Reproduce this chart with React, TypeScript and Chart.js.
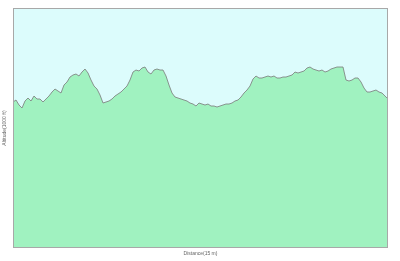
import React, { useEffect, useRef } from "react";
import { Chart, registerables } from "chart.js";

Chart.register(...registerables);

// Altitude profile (1000 ft), one sample per distance step
const altitude: number[] = [
  1.46, 1.48, 1.43, 1.40, 1.47, 1.50, 1.47, 1.52, 1.49, 1.49,
  1.46, 1.49, 1.52, 1.56, 1.59, 1.57, 1.55, 1.63, 1.66, 1.71,
  1.73, 1.74, 1.72, 1.76, 1.79, 1.75, 1.68, 1.62, 1.59, 1.53,
  1.45, 1.46, 1.47, 1.49, 1.52, 1.54, 1.56, 1.59, 1.62, 1.68,
  1.76, 1.78, 1.77, 1.80, 1.81, 1.76, 1.74, 1.78, 1.79, 1.78,
  1.78, 1.72, 1.63, 1.55, 1.51, 1.50, 1.49, 1.48, 1.47, 1.45,
  1.44, 1.42, 1.45, 1.44, 1.43, 1.44, 1.42, 1.42, 1.41, 1.42,
  1.43, 1.44, 1.44, 1.45, 1.47, 1.48, 1.51, 1.55, 1.58, 1.62,
  1.69, 1.72, 1.70, 1.70, 1.71, 1.72, 1.71, 1.72, 1.70, 1.70,
  1.71, 1.71, 1.72, 1.73, 1.76, 1.75, 1.76, 1.77, 1.80, 1.81,
  1.79, 1.78, 1.77, 1.78, 1.76, 1.77, 1.79, 1.80, 1.81, 1.81,
  1.81, 1.68, 1.67, 1.68, 1.70, 1.70, 1.66, 1.60, 1.56, 1.56,
  1.57, 1.58, 1.56, 1.55, 1.52, 1.49,
];
const distance: string[] = altitude.map((_, i) => String(i));
const xTitle = "Distance(15 m)";
const yTitle = "Altitude(1000 ft)";

const plotFrame = {
  id: "plotFrame",
  beforeDraw(chart: any) {
    const { ctx, chartArea: a } = chart;
    ctx.save();
    ctx.fillStyle = "#dcfcfc";
    ctx.fillRect(a.left, a.top, a.right - a.left, a.bottom - a.top);
    ctx.restore();
  },
  afterDraw(chart: any) {
    const { ctx, chartArea: a } = chart;
    ctx.save();
    ctx.strokeStyle = "#a8a8a8";
    ctx.lineWidth = 1;
    ctx.strokeRect(a.left + 0.5, a.top + 0.5, a.right - a.left - 1, a.bottom - a.top - 1);
    ctx.restore();
  },
};

export default function App() {
  const ref = useRef<HTMLCanvasElement | null>(null);
  useEffect(() => {
    document.body.style.margin = "0";
    const chart = new Chart(ref.current as HTMLCanvasElement, {
      type: "line",
      data: {
        labels: distance,
        datasets: [
          {
            data: altitude,
            borderColor: "#7a7a7a",
            borderWidth: 0.8,
            backgroundColor: "#a0f2c0",
            fill: "origin",
            pointRadius: 0,
            tension: 0,
          },
        ],
      },
      options: {
        responsive: false,
        animation: false,
        layout: { padding: { left: 2, right: 12, top: 8, bottom: 4 } },
        plugins: { legend: { display: false }, tooltip: { enabled: false } },
        scales: {
          x: {
            grid: { display: false, drawTicks: false },
            border: { display: false },
            ticks: { display: false },
            title: {
              display: true,
              text: xTitle,
              color: "#666",
              font: { family: "Liberation Sans", size: 5 },
              padding: { top: 3, bottom: 0 },
            },
          },
          y: {
            min: 0,
            max: 2.4,
            grid: { display: false, drawTicks: false },
            border: { display: false },
            ticks: { display: false },
            title: {
              display: true,
              text: yTitle,
              color: "#666",
              font: { family: "Liberation Sans", size: 5 },
              padding: { top: 0, bottom: 5 },
            },
          },
        },
      },
      plugins: [plotFrame],
    });
    return () => chart.destroy();
  }, []);
  return (
    <div style={{ width: 400, height: 261 }}>
      <canvas ref={ref} width={400} height={261} />
    </div>
  );
}
